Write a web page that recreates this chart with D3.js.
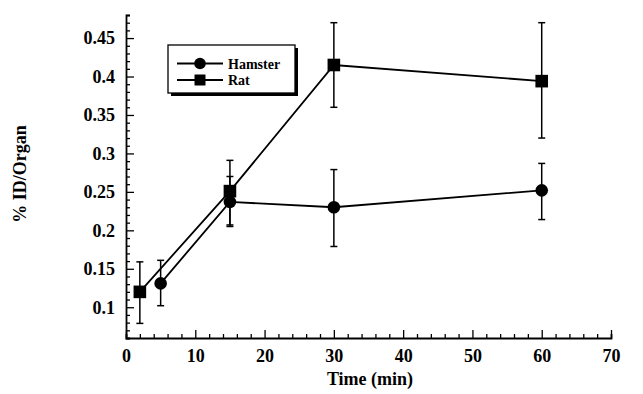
<!DOCTYPE html>
<html><head><meta charset="utf-8">
<script src="https://cdn.jsdelivr.net/npm/d3@7"></script>
<style>body{margin:0;background:#fff}svg{display:block}</style>
</head><body>
<svg id="c" width="643" height="394"></svg>
<script>
const hamsterTime = [5, 15, 30, 60];
const hamsterMean = [0.131, 0.237, 0.230, 0.252];
const hamsterLow  = [0.102, 0.205, 0.179, 0.214];
const hamsterHigh = [0.161, 0.270, 0.279, 0.287];

const ratTime = [2, 15, 30, 60];
const ratMean = [0.120, 0.251, 0.415, 0.394];
const ratLow  = [0.079, 0.207, 0.360, 0.320];
const ratHigh = [0.159, 0.291, 0.470, 0.470];

const xTicks = [0, 10, 20, 30, 40, 50, 60, 70];
const yTicks = [0.1, 0.15, 0.2, 0.25, 0.3, 0.35, 0.4, 0.45];
const seriesNames = ["Hamster", "Rat"];

const svg = d3.select("#c");
const FONT = "'Liberation Serif','Times New Roman',serif";
const x = d3.scaleLinear().domain([0, 70]).range([126, 611]);
const y = d3.scaleLinear().domain([0.06, 0.48]).range([338, 15]);

// axes
const gx = svg.append("g").attr("transform", `translate(0,${y(0.06)})`);
gx.call(d3.axisBottom(x).tickValues(d3.range(0, 71, 2)).tickSize(-4).tickFormat(""));
gx.call(g => g.selectAll(".tick line").attr("y2", d => d % 10 === 0 ? -8 : -4));
const gx2 = svg.append("g").attr("transform", `translate(0,${y(0.06)})`);
gx2.call(d3.axisBottom(x).tickValues(xTicks).tickSize(0).tickPadding(11).tickFormat(d3.format("d")));
gx2.select(".domain").remove();

const gy = svg.append("g").attr("transform", `translate(${x(0)},0)`);
const yMinor = d3.range(6, 49).map(v => v / 100);
gy.call(d3.axisLeft(y).tickValues(yMinor).tickSize(-4).tickFormat(""));
gy.call(g => g.selectAll(".tick line").attr("x2", d => Math.abs(Math.round(d * 100) % 5) === 0 ? 8 : 4));
const gy2 = svg.append("g").attr("transform", `translate(${x(0)},0)`);
gy2.call(d3.axisLeft(y).tickValues(yTicks).tickSize(0).tickPadding(11).tickFormat(d => String(+d.toFixed(2))));
gy2.select(".domain").remove();

svg.selectAll(".domain").attr("stroke", "#000").attr("stroke-width", 1.8);
svg.selectAll(".tick line").attr("stroke", "#000").attr("stroke-width", 1.3);
svg.selectAll(".tick text").attr("font-family", FONT).attr("font-weight", "bold")
  .attr("font-size", 18).attr("fill", "#000");

// axis titles
svg.append("text").attr("x", 370).attr("y", 385).attr("text-anchor", "middle")
  .attr("font-family", FONT).attr("font-weight", "bold").attr("font-size", 18).text("Time (min)");
svg.append("text").attr("transform", "translate(26,174) rotate(-90)").attr("text-anchor", "middle")
  .attr("font-family", FONT).attr("font-weight", "bold").attr("font-size", 18).text("% ID/Organ");

// series
function drawSeries(time, mean, low, high, shape) {
  const pts = time.map((t, i) => ({t, m: mean[i], lo: low[i], hi: high[i]}));
  const g = svg.append("g");
  g.append("path").datum(pts).attr("fill", "none").attr("stroke", "#000").attr("stroke-width", 1.8)
    .attr("d", d3.line().x(d => x(d.t)).y(d => y(d.m)));
  const eb = g.selectAll(".eb").data(pts).enter().append("g");
  eb.append("line").attr("x1", d => x(d.t)).attr("x2", d => x(d.t)).attr("y1", d => y(d.lo)).attr("y2", d => y(d.hi))
    .attr("stroke", "#000").attr("stroke-width", 1.5);
  ["lo", "hi"].forEach(k => {
    eb.append("line").attr("x1", d => x(d.t) - 3.5).attr("x2", d => x(d.t) + 3.5)
      .attr("y1", d => y(d[k])).attr("y2", d => y(d[k])).attr("stroke", "#000").attr("stroke-width", 1.5);
  });
  if (shape === "circle") {
    g.selectAll(".m").data(pts).enter().append("circle").attr("cx", d => x(d.t)).attr("cy", d => y(d.m)).attr("r", 6.3).attr("fill", "#000");
  } else {
    g.selectAll(".m").data(pts).enter().append("rect").attr("x", d => x(d.t) - 6.3).attr("y", d => y(d.m) - 6.3)
      .attr("width", 12.6).attr("height", 12.6).attr("fill", "#000");
  }
}
drawSeries(hamsterTime, hamsterMean, hamsterLow, hamsterHigh, "circle");
drawSeries(ratTime, ratMean, ratLow, ratHigh, "square");

// legend
const lg = svg.append("g");
lg.append("rect").attr("x", 171).attr("y", 48).attr("width", 127).attr("height", 48).attr("fill", "#000");
lg.append("rect").attr("x", 168).attr("y", 45).attr("width", 127).attr("height", 48).attr("fill", "#fff")
  .attr("stroke", "#000").attr("stroke-width", 1.3);
seriesNames.forEach((n, i) => {
  const yy = 63.5 + i * 16.5;
  lg.append("line").attr("x1", 177).attr("x2", 223).attr("y1", yy).attr("y2", yy).attr("stroke", "#000").attr("stroke-width", 1.8);
  if (i === 0) lg.append("circle").attr("cx", 200).attr("cy", yy).attr("r", 5.8).attr("fill", "#000");
  else lg.append("rect").attr("x", 194.5).attr("y", yy - 5.5).attr("width", 11).attr("height", 11).attr("fill", "#000");
  lg.append("text").attr("x", 228).attr("y", yy + 5).attr("font-family", FONT).attr("font-weight", "bold")
    .attr("font-size", 14).text(n);
});
</script>
</body></html>
